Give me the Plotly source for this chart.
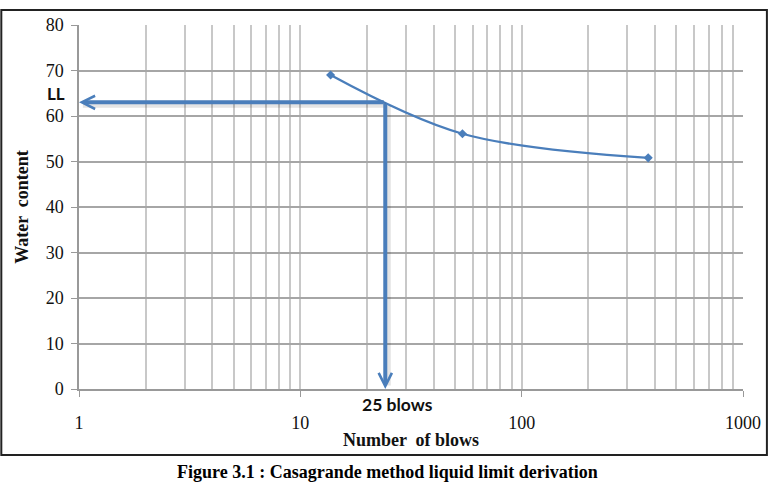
import numpy as np
import plotly.graph_objects as go

# Data
blows = [13.7, 54, 373]
water_content = [69.0, 56.1, 50.8]
ll_value = 63
ll_blows = 24.2
y_ticks = [0, 10, 20, 30, 40, 50, 60, 70, 80]
x_tick_vals = [1, 10, 100, 1000]
x_tick_text = ["1", "10", "100", "1000"]

BLUE = "#4A7EBB"
SERIF = "Liberation Serif"

fig = go.Figure()
fig.add_trace(go.Scatter(
    x=blows, y=water_content, mode="lines+markers",
    line=dict(color=BLUE, width=2.3, shape="spline", smoothing=1.0),
    marker=dict(symbol="diamond", size=7, color=BLUE),
    showlegend=False, hoverinfo="skip",
))


def arrow(x, y, ax, ay, color, width, head=True, xshift=0, yshift=0):
    fig.add_annotation(
        x=np.log10(x), y=y, ax=np.log10(ax), ay=ay,
        xref="x", yref="y", axref="x", ayref="y",
        text="", showarrow=True, arrowhead=5 if head else 0, arrowsize=0.65,
        arrowwidth=width, arrowcolor=color, xshift=xshift, yshift=yshift,
        standoff=0, startstandoff=0,
    )

# soft shadow (lines only)
arrow(1.02, ll_value, ll_blows, ll_value, "rgba(0,0,0,0.10)", 5, False, 2, -3)
arrow(ll_blows, 1.2, ll_blows, ll_value, "rgba(0,0,0,0.10)", 5, False, 3, -2)
# arrows
arrow(1, ll_value, ll_blows, ll_value, BLUE, 4)
arrow(ll_blows, 0, ll_blows, ll_value, BLUE, 4)

fig.add_annotation(x=0, y=ll_value, xref="paper", yref="y", text="<b>LL</b>",
                   showarrow=False, xanchor="right", yanchor="middle",
                   xshift=-12, yshift=9,
                   font=dict(family="Lato", size=17, color="#111"))
fig.add_annotation(x=np.log10(ll_blows), y=0, xref="x", yref="y", text="<b>25 blows</b>",
                   showarrow=False, xanchor="center", yanchor="middle",
                   xshift=12, yshift=-15,
                   font=dict(family="Lato", size=17.5, color="#111"))

# caption
fig.add_annotation(x=0.5, y=-0.228, xref="paper", yref="paper",
                   text="<b>Figure 3.1 : Casagrande method liquid limit derivation</b>",
                   showarrow=False, xanchor="center", yanchor="middle",
                   xshift=-24,
                   font=dict(family=SERIF, size=18, color="#000"))

# outer border
fig.add_shape(type="rect", xref="paper", yref="paper",
              x0=-0.117, x1=1.036, y0=-0.181, y1=1.041,
              line=dict(color="#222", width=2), fillcolor="rgba(0,0,0,0)", layer="below")

fig.update_xaxes(
    type="log", range=[0, 3],
    tickvals=x_tick_vals, ticktext=x_tick_text,
    ticks="outside", ticklen=6, tickcolor="#999", tickwidth=1,
    showgrid=True, gridcolor="#c8c8c8", gridwidth=1.5,
    minor=dict(dtick="D1", showgrid=True, gridcolor="#c8c8c8", gridwidth=1.5, ticks=""),
    showline=True, linecolor="#999", linewidth=1.5,
    tickfont=dict(family=SERIF, size=18, color="#111"),
    ticklabelstandoff=11,
    title=dict(text="<b>Number  of blows</b>", font=dict(family=SERIF, size=18, color="#111"),
               standoff=1),
    zeroline=False,
)
fig.update_yaxes(
    range=[0, 80], tickvals=y_ticks,
    ticks="outside", ticklen=6, tickcolor="#999", tickwidth=1,
    showgrid=True, gridcolor="#a6a6a6", gridwidth=1.5,
    showline=True, linecolor="#999", linewidth=1.5,
    tickfont=dict(family=SERIF, size=18, color="#111"),
    ticklabelstandoff=4,
    title=dict(text="<b>Water  content</b>", font=dict(family=SERIF, size=18, color="#111"),
               standoff=12),
    zeroline=False,
)

fig.update_layout(
    width=773, height=484,
    margin=dict(l=79, r=27, t=25, b=95),
    paper_bgcolor="white", plot_bgcolor="white",
)

fig.write_html("out.html")
